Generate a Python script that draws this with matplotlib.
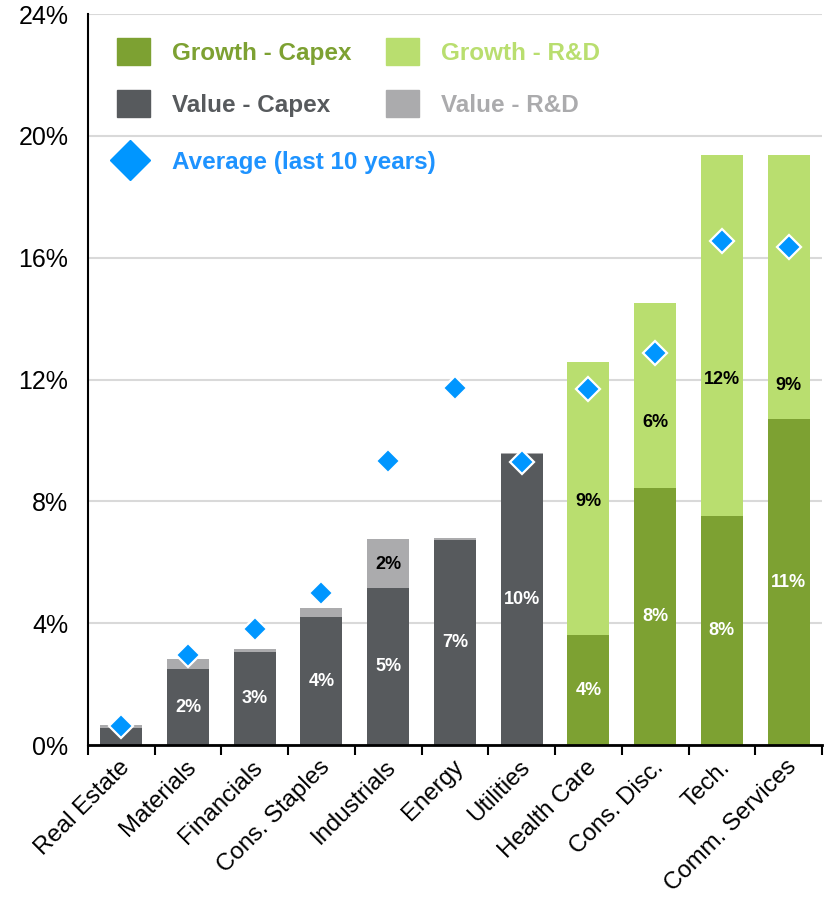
import matplotlib.pyplot as plt
import matplotlib.transforms as mtransforms
from matplotlib.patches import Patch
from matplotlib.lines import Line2D
from matplotlib.ticker import FixedLocator

plt.rcParams['font.family'] = ['Liberation Sans', 'DejaVu Sans']

sectors = ["Real Estate", "Materials", "Financials", "Cons. Staples", "Industrials",
           "Energy", "Utilities", "Health Care", "Cons. Disc.", "Tech.", "Comm. Services"]
style = ["value"] * 7 + ["growth"] * 4
capex = [0.57, 2.48, 3.05, 4.2, 5.15, 6.73, 9.55, 3.61, 8.44, 7.52, 10.7]
rnd = [0.08, 0.34, 0.1, 0.3, 1.61, 0.07, 0.03, 8.96, 6.06, 11.85, 8.67]
avg_10y = [0.63, 2.95, 3.8, 5.0, 9.32, 11.72, 9.3, 11.69, 12.87, 16.55, 16.35]

# where the R&D labels sit (they dodge the diamonds in the original)
rnd_label_pos = [None, None, None, None, 5.93, None, None, 8.0, 10.6, 12.0, 11.8]

colors = {
    "growth": ("#7DA132", "#B9DE6F"),
    "value": ("#575A5D", "#ABABAD"),
}
blue = "#0096FF"
blue_txt = "#1E93FF"

fig = plt.figure(figsize=(8.29, 8.99), dpi=100)
ax = fig.add_axes([0.106, 0.1713, 0.8856, 0.8131])

x = list(range(len(sectors)))
capex_col = [colors[s][0] for s in style]
rnd_col = [colors[s][1] for s in style]

ax.bar(x, capex, width=0.63, color=capex_col, zorder=2)
ax.bar(x, rnd, bottom=capex, width=0.63, color=rnd_col, zorder=2)
ax.plot(x, avg_10y, ls="none", marker="D", ms=12.3, mfc=blue, mec="white",
        mew=1.6, zorder=4)

for i in x:
    if capex[i] >= 1:
        ax.text(i, capex[i] / 2, "%d%%" % round(capex[i]), ha="center", va="center",
                color="white", fontsize=13, fontweight="bold", zorder=3)
    if rnd[i] >= 1:
        ax.text(i, rnd_label_pos[i], "%d%%" % round(rnd[i]), ha="center", va="center",
                color="black", fontsize=13, fontweight="bold", zorder=3)

ax.set_xlim(-0.5, len(sectors) - 0.5)
ax.set_ylim(0, 24)
ax.set_yticks(range(0, 25, 4))
ax.set_yticklabels(["%d%%" % v for v in range(0, 25, 4)], fontsize=18)
ax.tick_params(axis="y", length=0, pad=14)
ax.grid(axis="y", color="#D9D9D9", lw=1.5, zorder=0)
ax.set_axisbelow(True)

ax.set_xticks(x)
ax.set_xticklabels(sectors, rotation=45, ha="right", rotation_mode="anchor",
                   fontsize=17.3)
ax.xaxis.set_minor_locator(FixedLocator([i - 0.5 for i in range(len(sectors) + 1)]))
ax.tick_params(axis="x", which="major", length=0, pad=8)
ax.tick_params(axis="x", which="minor", length=7, width=1.5, color="black")
# nudge the rotated labels a little to the left
shift = mtransforms.ScaledTranslation(-3 / 100, 0, fig.dpi_scale_trans)
for lbl in ax.get_xticklabels():
    lbl.set_transform(lbl.get_transform() + shift)

for side in ["top", "right"]:
    ax.spines[side].set_visible(False)
ax.spines["left"].set_linewidth(1.5)
ax.spines["bottom"].set_linewidth(2)

handles = [Patch(color=colors["growth"][0]), Patch(color=colors["value"][0]),
           Patch(color=colors["growth"][1]), Patch(color=colors["value"][1])]
labels = ["Growth - Capex", "Value - Capex", "Growth - R&D", "Value - R&D"]
leg = ax.legend(handles, labels, ncol=2, loc="upper left",
                bbox_to_anchor=(0.04, 1 - 24 / 731), frameon=False,
                borderpad=0, borderaxespad=0, handlelength=1.36, handleheight=1.36,
                handletextpad=0.9, columnspacing=1.4, labelspacing=1.0,
                prop={"size": 17.5, "weight": "bold"},
                labelcolor=[colors["growth"][0], colors["value"][0],
                            colors["growth"][1], colors["value"][1]])
ax.add_artist(leg)

avg_handle = Line2D([], [], ls="none", marker="D", ms=20, mfc=blue, mec=blue)
ax.legend([avg_handle], ["Average (last 10 years)"], loc="center left",
          bbox_to_anchor=(0.0286, 1 - (162 - 14) / 731), frameon=False,
          borderpad=0, borderaxespad=0, handlelength=1.7, handletextpad=0.9,
          prop={"size": 17.5, "weight": "bold"}, labelcolor=blue_txt)

fig.savefig("out.png", dpi=100)
